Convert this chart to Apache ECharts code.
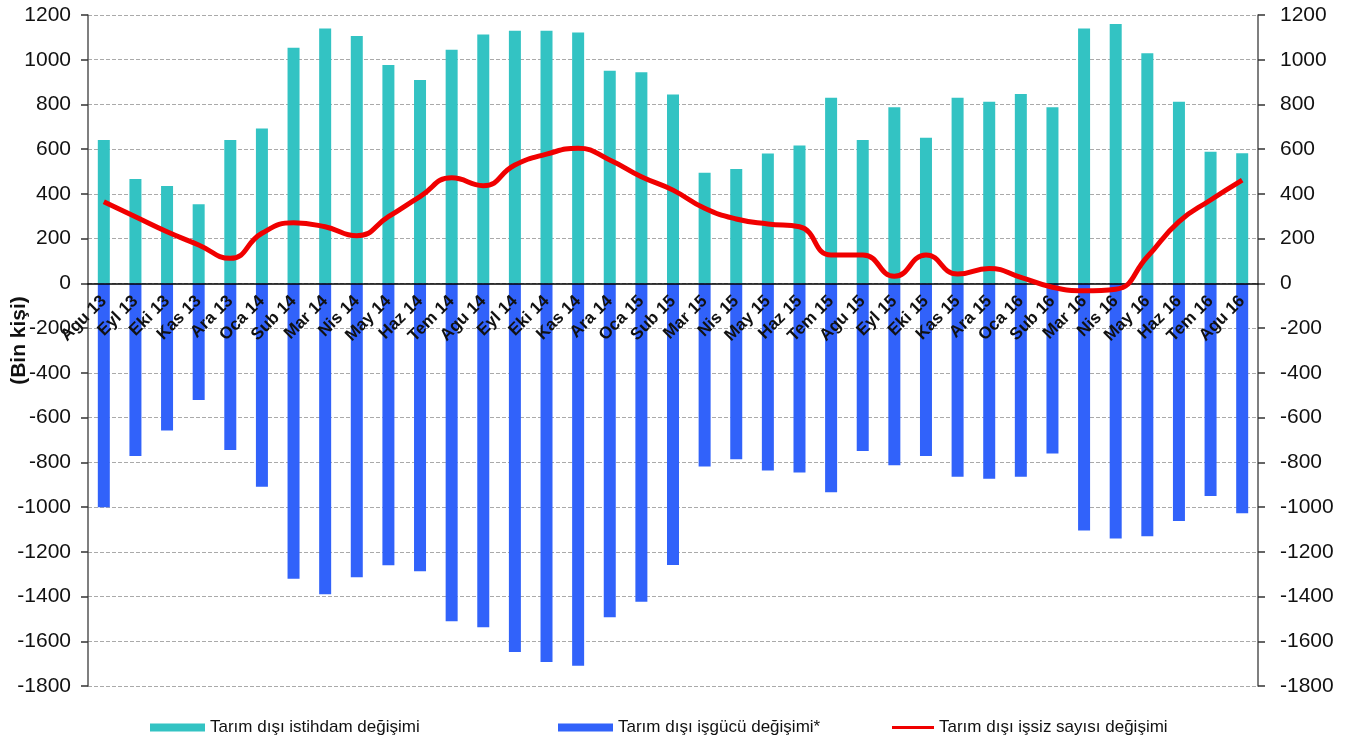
<!DOCTYPE html>
<html>
<head>
<meta charset="utf-8">
<script src="https://cdn.jsdelivr.net/npm/echarts@6/dist/echarts.min.js"></script>
<style>
html,body{margin:0;padding:0;background:#fff;}
#chart{width:1354px;height:742px;}
</style>
</head>
<body>
<div id="chart"></div>
<script>
const categories = ["Agu 13","Eyl 13","Eki 13","Kas 13","Ara 13","Oca 14","Sub 14","Mar 14","Nis 14","May 14","Haz 14","Tem 14","Agu 14","Eyl 14","Eki 14","Kas 14","Ara 14","Oca 15","Sub 15","Mar 15","Nis 15","May 15","Haz 15","Tem 15","Agu 15","Eyl 15","Eki 15","Kas 15","Ara 15","Oca 16","Sub 16","Mar 16","Nis 16","May 16","Haz 16","Tem 16","Agu 16"];
const istihdam = [641,467,435,354,641,693,1054,1140,1106,976,909,1045,1113,1130,1130,1122,951,944,845,495,511,581,616,830,641,787,651,830,812,847,787,1140,1160,1029,812,589,582];
const isgucu = [-1001,-772,-658,-521,-745,-909,-1321,-1390,-1314,-1260,-1287,-1511,-1537,-1648,-1693,-1710,-1493,-1423,-1259,-819,-786,-837,-846,-934,-749,-813,-772,-864,-873,-864,-760,-1105,-1140,-1131,-1062,-950,-1028];
const issiz = [365,298,231,172,112,224,271,253,213,298,388,472,437,529,578,604,552,477,417,336,288,266,253,127,127,32,127,42,67,27,-17,-33,-26,119,276,373,462];
const seriesNames = ["Tarım dışı istihdam değişimi","Tarım dışı işgücü değişimi*","Tarım dışı işsiz sayısı değişimi"];
const yMin = -1800, yMax = 1200, yStep = 200;

const chart = echarts.init(document.getElementById('chart'));
const gridTop = 15, gridBottom = 56, H = 742;
const plotH = H - gridTop - gridBottom;
const zeroOffset = -plotH * (0 - yMin) / (yMax - yMin);

const tickFont = {fontFamily:'Liberation Sans, Arial, sans-serif', fontSize:21, color:'#111'};
const yCommon = {
  type:'value', min:yMin, max:yMax, interval:yStep,
  axisLine:{show:true, lineStyle:{color:'#555', width:1.5}},
  axisTick:{show:true, length:7, lineStyle:{color:'#333', width:1.5}}
};
const legendCommon = {
  top:714, itemWidth:55, itemHeight:8, icon:'rect',
  textStyle:{fontFamily:'Liberation Sans, Arial, sans-serif', fontSize:17, color:'#111'}
};
chart.setOption({
  animation:false,
  backgroundColor:'#fff',
  grid:{left:88, right:96, top:gridTop, bottom:gridBottom, containLabel:false, outerBoundsMode:'none'},
  legend:[
    Object.assign({}, legendCommon, {left:145, data:[seriesNames[0]]}),
    Object.assign({}, legendCommon, {left:553, data:[seriesNames[1]]}),
    Object.assign({}, legendCommon, {left:887, itemWidth:42, itemHeight:3, data:[seriesNames[2]]})
  ],
  xAxis:{
    type:'category', data:categories,
    offset:zeroOffset,
    axisLine:{onZero:false, lineStyle:{color:'#000', width:1.5}},
    axisTick:{show:false},
    axisLabel:{interval:0, rotate:45, margin:15, fontFamily:'Liberation Sans, Arial, sans-serif', fontWeight:'bold', fontSize:17, color:'#111'},
    z:4
  },
  yAxis:[
    Object.assign({}, yCommon, {
      position:'left',
      axisLabel:Object.assign({margin:17, formatter:function(v){return String(v);}}, tickFont),
      name:'(Bin kişi)', nameLocation:'middle', nameGap:58, nameMoveOverlap:false,
      nameTextStyle:{fontFamily:'Liberation Sans, Arial, sans-serif', fontWeight:'bold', fontSize:21, color:'#111', padding:[0,0,0,20]},
      splitLine:{show:true, lineStyle:{color:'#aaa', type:'dashed', width:1}}
    }),
    Object.assign({}, yCommon, {
      position:'right',
      axisLabel:Object.assign({margin:22, formatter:function(v){return String(v);}}, tickFont),
      splitLine:{show:false}
    })
  ],
  series:[
    {name:seriesNames[0], type:'bar', data:istihdam, barWidth:12, barGap:'-100%', itemStyle:{color:'#33C3C3'}},
    {name:seriesNames[1], type:'bar', data:isgucu, barWidth:12, barGap:'-100%', itemStyle:{color:'#3162FA'}},
    {name:seriesNames[2], type:'line', data:issiz, smooth:true, symbol:'none', lineStyle:{color:'#F00000', width:5}, itemStyle:{color:'#F00000'}, z:5}
  ]
});
</script>
</body>
</html>
